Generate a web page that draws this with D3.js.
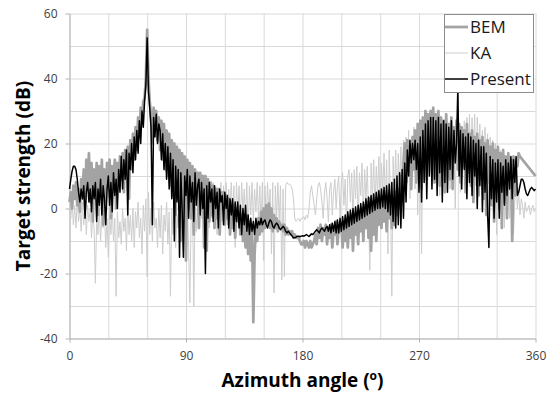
<!DOCTYPE html>
<html>
<head>
<meta charset="utf-8">
<script src="https://cdn.jsdelivr.net/npm/d3@7"></script>
<style>
  body { margin: 0; background: #fff; }
  svg { display: block; font-family: "Open Sans", sans-serif; }
</style>
</head>
<body>
<svg id="chart" width="556" height="396"></svg>
<script>
// Azimuth sampled every degree, 0..360
const angleStep = 1;

const presentTS = [
  6, 9, 11.5, 13, 13, 12, 9, 5, 2, 6,
  3, 7, -3, 5, 8, 2, 6, -1, 7, 3,
  8, -4, 6, 1, 9, -2, 7, 3, -5, 6,
  10, 1, 8, -1, 11, 4, 9, 0, 12, 5,
  16, 6, 15, 9, 18, -2, 17, 12, 20, 11,
  22, 15, 24, 17, 27, 20, 30, 25, 33, 38,
  52.5, 36, 31, 25, -5, 28, 22, 29, 20, 26,
  24, 15, 23, 12, 20, 9, 19, 6, 17, 3,
  15, -10, 13, 2, 12, -15, 11, 0, -15, 10,
  4, 12, -3, 10, 2, 8, -4, 11, 1, 7,
  9, -2, 8, 0, 6, -20, 7, -3, 8, 2,
  6, -4, 7, 0, 5, -6, 6, 2, 4, -5,
  5, 0, 4, -6, 3, -2, 3, -7, 2, -4,
  2, -6, 1, -8, 0, -5, 1, -7, -2, -8,
  -3, -7, -4, -8, -3, -6, -4, -5, -3, -5,
  -4, -3.5, -5, -6, -4.5, -3.5, -4, -5.5, -6, -5,
  -4.5, -5, -6, -6.5, -6, -5.5, -6, -7, -7.5, -7,
  -7.5, -8, -8.5, -9, -9, -8.8, -8.5, -8.5, -8.7, -8.5,
  -8.4, -8.5, -8.3, -8, -8.3, -8.6, -8.2, -7.8, -8, -7.5,
  -7, -6.5, -7, -7.5, -6.5, -6, -6.5, -7, -6, -5.5,
  -7, -5, -7.5, -4.5, -7, -4, -7.5, -3.5, -7.5, -3,
  -7, -2.5, -6.5, -2, -6, -1, -5.5, -0.5, -5, 0,
  -4.5, 0.5, -4, 1, -3.5, 1.5, -3, 2, -2.5, 3,
  -2, 3.5, -1.5, 4, -1, 4.5, -0.5, 5, 0, 5.5,
  0, 6, 0.5, 6.5, 0, 7, -1, 7.5, -2, 8,
  -4, 9, -6, 10, -5, 11, -6, 12, -3, 14,
  2, 18, 10, 21, 14, 20, 15, 21, 12, 20,
  5, 22, 2, 24, 8, 26, 3, 27, 10, 28,
  6, 28, 9, 27, 4, 28, 11, 26, 2, 27,
  8, 26, 5, 25, 12, 27, 9, 24, 14, 20,
  37, 10, 24, 6, 23, 12, 22, 3, 23, 8,
  22, 4, 21, 10, 20, 0, 21, 7, 19, -1,
  19, 5, 17, -2, -12, 16, 3, 15, -3, 14,
  2, 15, -3, 14, 5, 13, 1, 15, 4, 14,
  6, 16, 3, 15, 8, 16, 4, 5, 7, 9,
  9, 8, 6, 4.5, 4, 5, 6, 6.5, 6, 5.5,
  6
];

const bemTS = [
  2, 5, 0, 7, 3, 8, 1, 6, -1, 9,
  3, 12, 0, 15, 6, 17, 2, 14, -4, 12,
  5, 14, -2, 13, 4, 15, -5, 12, 2, 14,
  6, 15, -3, 13, 8, 15, 0, 14, 7, 16,
  9, 17, 5, 18, 10, 19, 3, 21, 12, 23,
  15, 25, 18, 28, 22, 31, 27, 33, 34, 40,
  55, 40, 33, 28, 20, 31, 24, 30, 21, 28,
  18, 27, 15, 26, 12, 24, 10, 23, 7, 21,
  4, 20, -2, 19, 3, 18, -10, 17, -5, 16,
  -16, 15, 0, 14, -3, 13, -8, 12, 2, 11,
  -6, 11, 0, 10, -12, 10, -13, 9, -4, 8,
  -2, 7, -6, 6, -3, 6, -8, 5, 0, 5,
  -5, 4, -3, 3, -8, 2, -6, 1, -9, 0,
  -4, -1, -8, -2, -10, -3, -12, -2, -14, -4,
  -16, -5, -35, -14, -6, -10, -3, -8, -1, -7,
  0, -6, 1, -5, 1.5, -6, 0, -7, -2, -6,
  -3, -7, -4, -6, -5, -7, -5, -8, -6, -8,
  -7, -8, -7, -9, -8, -9, -9, -9, -10, -11,
  -11, -10, -12, -10, -11, -12, -10, -12, -11, -10,
  -8, -11, -6, -9, -5, -10, -6, -8, -5, -11,
  -6, -9, -5, -12, -7, -8, -4, -11, -6, -7,
  -5, -12, -4, -10, -3, -12, -4, -9, -2, -13,
  -3, -8, -2, -11, -1, -7, 0, -10, 1, -6,
  2, -9, 3, -13, 2, -8, 1, -10, 3, -5,
  2, -6, 3, -4, 4, -7, 3, -3, 4, -6,
  3, -5, 5, -2, 6, 0, 10, 3, 14, 20,
  8, 21, 13, 18, 6, 22, 12, 24, 8, 26,
  10, 27, 6, 28, 14, 30, 9, 29, 16, 30,
  11, 31, 8, 29, 13, 30, 7, 28, 12, 27,
  5, 29, 14, 26, 9, 28, 6, 25, 15, 27,
  12, 26, 8, 25, 13, 24, 5, 26, 11, 23,
  7, 24, 2, 22, 10, 23, 4, 21, 9, 22,
  3, 20, -2, 21, 8, 19, 1, 20, -4, 18,
  5, 19, 0, 17, -6, 18, 2, 16, -3, 17,
  6, 15, -10, 16, 4, 15, 13, 17, 16, 15.5,
  15, 14.5, 14, 13.5, 13, 12.5, 12, 11.5, 11, 10.5,
  10
];

const kaTS = [
  0, -3, 2, -5, 1, -6, 3, -4, 0, -7,
  2, -5, 3, -8, 1, -4, 0, -9, -2, -6,
  -23, -3, -8, 0, -10, -2, -6, -1, -12, -3,
  -15, -2, -8, 0, -10, -3, -27, -1, -9, -4,
  -11, 0, -7, -3, -13, 1, -8, -2, -10, 0,
  -12, -1, -6, 2, -9, -3, -14, 1, -7, 3,
  -21, 5, -8, 0, -10, 2, -6, -3, -12, 0,
  -9, 1, -14, -2, -7, 2, -11, -1, -27, 0,
  -8, 3, -12, -2, -6, 1, -10, -4, -15, 0,
  -8, 2, -12, -29, -1, 3, -30, 0, -7, 4,
  -5, 6, -3, 7, -9, 5, -2, 8, -6, 6,
  -3, 8, -1, 7, -8, 6, -2, 8, -4, 7,
  -1, 8, -5, 6, 0, 8, -3, 7, -12, 8,
  -2, 7, -4, 8, -1, 6, -3, 8, -9, 7,
  -2, 8, -4, 6, -1, 8, -3, 7, -5, 8,
  -16, 7, -3, 8, -2, 6, -14, 8, -26, 7,
  -3, 8, -4, 7, -22, 6, -21, 7, 8, 7.5,
  7.5, 7, 6, 3, -3, -4, -3.5, -3, -4, -3,
  -3, -2.5, -3.5, -2, -3, 0, 5, 7, 4, 1,
  -2, 3, 7, 8, 6, 2, -3, 5, 8, 3,
  -4, 6, 8, -2, 5, 9, 0, 7, 10, -3,
  8, 11, 1, 9, -6, 10, 12, 2, 11, -4,
  12, 3, 13, -5, 11, 4, 14, -2, 12, 2,
  13, -1, -19, 14, 3, 15, 0, 13, 4, 16,
  -2, 14, 5, 17, 1, 15, -14, 18, 3, -27,
  16, 4, 18, 0, 17, 6, 19, 2, 21, 5,
  22, 8, 24, 3, 20, 10, 25, 6, 23, -2,
  24, 12, -14, 26, 9, 27, 5, 25, 11, 28,
  7, 26, 14, 27, 9, 29, 4, 25, 12, 27,
  8, 26, 15, 24, 6, 27, 10, 23, 0, 25,
  12, 26, 5, 24, 14, 27, 8, 28, 11, 29,
  9, 28, 13, 29, 7, 28, 15, 26, 10, 24,
  4, 25, 11, 23, -2, 22, 8, 21, 3, 20,
  -8, 19, 5, 18, 0, 17, -6, 16, 3, 15,
  -3, 12, 4, -8, 2, 8, 0, 5, -2, 3,
  1, -3, 2, -1, 0, 1, -2, 0, 1, -1,
  0
];

const xTickValues = [0, 90, 180, 270, 360];
const xGridValues = [0, 30, 60, 90, 120, 150, 180, 210, 240, 270, 300, 330, 360];
const yTickValues = [-40, -20, 0, 20, 40, 60];
const yGridValues = [-40, -30, -20, -10, 0, 10, 20, 30, 40, 50, 60];

const series = [
  { name: 'KA', values: kaTS, color: '#cdcdcd', width: 1 },
  { name: 'BEM', values: bemTS, color: '#a3a3a3', width: 2.75 },
  { name: 'Present', values: presentTS, color: '#000000', width: 1.5 },
];
const legendOrder = ['BEM', 'KA', 'Present'];

const svg = d3.select('#chart');

const x = d3.scaleLinear().domain([0, 360]).range([69.5, 535.5]);
const y = d3.scaleLinear().domain([-40, 60]).range([338.5, 13.5]);

// Grid
svg.append('g')
  .attr('transform', 'translate(0,' + y(-40) + ')')
  .call(d3.axisBottom(x).tickValues(xGridValues).tickSize(y(60) - y(-40)).tickFormat(''))
  .call(g => g.select('.domain').remove())
  .call(g => g.selectAll('line').attr('stroke', '#d9d9d9'));
svg.append('g')
  .attr('transform', 'translate(' + x(0) + ',0)')
  .call(d3.axisLeft(y).tickValues(yGridValues).tickSize(x(0) - x(360)).tickFormat(''))
  .call(g => g.select('.domain').remove())
  .call(g => g.selectAll('line').attr('stroke', '#d9d9d9'));

// Axes (plain hyphen minus, like the original)
svg.append('g')
  .attr('transform', 'translate(0,' + y(-40) + ')')
  .call(d3.axisBottom(x).tickValues(xTickValues).tickFormat(d => String(d))
    .tickSizeInner(4).tickSizeOuter(0).tickPadding(9))
  .call(g => g.select('.domain').attr('stroke', '#b3b3b3'))
  .call(g => g.selectAll('line').attr('stroke', '#b3b3b3'))
  .call(g => g.selectAll('text').attr('fill', '#404040').attr('font-size', 12).attr('font-family', 'Open Sans'));
svg.append('g')
  .attr('transform', 'translate(' + x(0) + ',0)')
  .call(d3.axisLeft(y).tickValues(yTickValues).tickFormat(d => String(d))
    .tickSizeInner(4).tickSizeOuter(0).tickPadding(8))
  .call(g => g.select('.domain').attr('stroke', '#b3b3b3'))
  .call(g => g.selectAll('line').attr('stroke', '#b3b3b3'))
  .call(g => g.selectAll('text').attr('fill', '#404040').attr('font-size', 12).attr('font-family', 'Open Sans'));

// Lines
const line = d3.line()
  .x((d, i) => x(i * angleStep))
  .y(d => y(d));

svg.append('g')
  .selectAll('path')
  .data(series)
  .enter()
  .append('path')
  .attr('d', d => line(d.values))
  .attr('fill', 'none')
  .attr('stroke', d => d.color)
  .attr('stroke-width', d => d.width)
  .attr('stroke-linejoin', 'round');

// Legend
const legend = svg.append('g');
legend.append('rect')
  .attr('x', 444.5).attr('y', 14.5)
  .attr('width', 89).attr('height', 78)
  .attr('fill', '#fff')
  .attr('stroke', '#8c8c8c');
legendOrder.forEach((name, i) => {
  const s = series.find(d => d.name === name);
  const ly = 27 + i * 26;
  legend.append('line')
    .attr('x1', 445).attr('x2', 468)
    .attr('y1', ly).attr('y2', ly)
    .attr('stroke', s.color)
    .attr('stroke-width', s.width);
  legend.append('text')
    .attr('x', 470).attr('y', ly + 6.3)
    .attr('font-size', 17)
    .attr('fill', '#1a1a1a')
    .text(name);
});

// Axis titles
svg.append('text')
  .attr('transform', 'translate(30,176) rotate(-90)')
  .attr('text-anchor', 'middle')
  .attr('font-size', 19)
  .attr('font-weight', 'bold')
  .text('Target strength (dB)');

const xTitle = svg.append('text')
  .attr('x', 302.5).attr('y', 386.5)
  .attr('text-anchor', 'middle')
  .attr('font-size', 19)
  .attr('font-weight', 'bold');
xTitle.append('tspan').text('Azimuth angle (');
xTitle.append('tspan').attr('font-size', 12).attr('dy', -7).text('o');
xTitle.append('tspan').attr('dy', 7).text(')');
</script>
</body>
</html>
